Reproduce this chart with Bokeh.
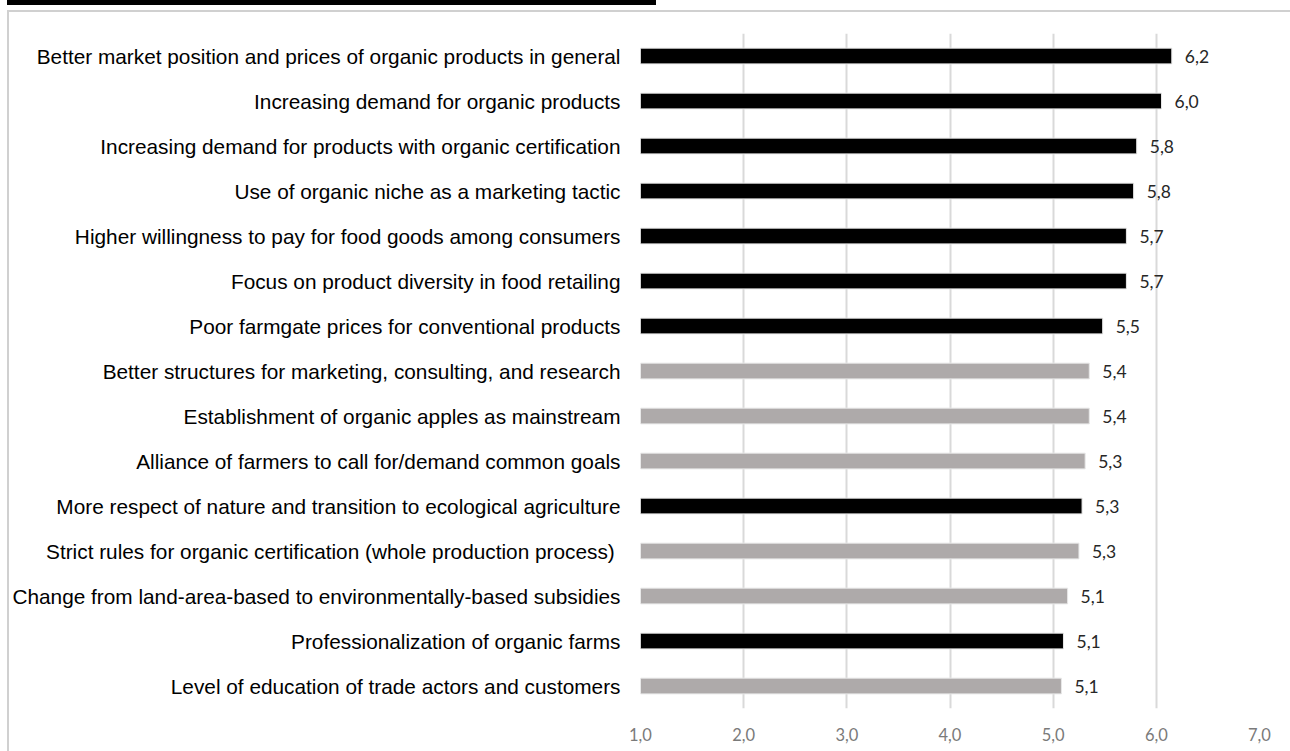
from bokeh.plotting import figure
from bokeh.models import FactorRange, Range1d, ColumnDataSource, FixedTicker
from bokeh.core.properties import value
from bokeh.embed import file_html
from bokeh.resources import INLINE

categories = [
    "Better market position and prices of organic products in general",
    "Increasing demand for organic products",
    "Increasing demand for products with organic certification",
    "Use of organic niche as a marketing tactic",
    "Higher willingness to pay for food goods among consumers",
    "Focus on product diversity in food retailing",
    "Poor farmgate prices for conventional products",
    "Better structures for marketing, consulting, and research",
    "Establishment of organic apples as mainstream",
    "Alliance of farmers to call for/demand common goals",
    "More respect of nature and transition to ecological agriculture",
    "Strict rules for organic certification (whole production process) ",
    "Change from land-area-based to environmentally-based subsidies",
    "Professionalization of organic farms",
    "Level of education of trade actors and customers",
]
values = [6.15, 6.05, 5.81, 5.78, 5.71, 5.71, 5.48, 5.35, 5.35, 5.31, 5.28, 5.25, 5.14, 5.10, 5.08]
value_labels = ["6,2", "6,0", "5,8", "5,8", "5,7", "5,7", "5,5", "5,4", "5,4", "5,3", "5,3", "5,3", "5,1", "5,1", "5,1"]
groups = ["black", "black", "black", "black", "black", "black", "black", "gray", "gray", "gray",
          "black", "gray", "gray", "black", "gray"]
x_ticks = [1, 2, 3, 4, 5, 6, 7]
x_tick_labels = ["1,0", "2,0", "3,0", "4,0", "5,0", "6,0", "7,0"]

color_map = {"black": "#000000", "gray": "#aeaaaa"}
colors = [color_map[g] for g in groups]

source = ColumnDataSource(dict(cat=categories, val=values, lab=value_labels,
                               base=[1.0] * len(values), color=colors))

p = figure(width=1290, height=751, output_backend="svg", toolbar_location=None,
           y_range=FactorRange(factors=list(reversed(categories)), range_padding=0),
           x_range=Range1d(1, 7),
           min_border_left=640, min_border_right=31, min_border_top=33, min_border_bottom=43)

p.hbar(y="cat", left="base", right="val", height=0.35, fill_color="color",
       line_color="#e8e8e8", line_width=1, source=source)

p.text(x="val", y="cat", text="lab", source=source, x_offset=13,
       text_align="left", text_baseline="middle", text_font=value("Lato"),
       text_font_size="17.5px", text_color="#262626")

p.xaxis.ticker = FixedTicker(ticks=x_ticks)
p.xaxis.major_label_overrides = {t: l for t, l in zip(x_ticks, x_tick_labels)}
p.xaxis.major_label_text_font = "Lato"
p.xaxis.major_label_text_font_size = "16.5px"
p.xaxis.major_label_text_color = "#7a7a7a"
p.xaxis.major_label_standoff = 13
p.xaxis.axis_line_color = None
p.xaxis.major_tick_line_color = None
p.xaxis.minor_tick_line_color = None

p.yaxis.major_label_text_font = "Liberation Sans"
p.yaxis.major_label_text_font_size = "20.8px"
p.yaxis.major_label_text_color = "#000000"
p.yaxis.major_label_standoff = 14
p.yaxis.axis_line_color = None
p.yaxis.major_tick_line_color = None
p.yaxis.minor_tick_line_color = None

p.xgrid.grid_line_color = "#d9d9d9"
p.xgrid.grid_line_width = 2
p.ygrid.grid_line_color = None
p.outline_line_color = None

# outer chart border and the black rule at the top, drawn behind a transparent canvas border
p.border_fill_color = None
p.styles = {
    "background-color": "#ffffff",
    "background-image": ("linear-gradient(#000000,#000000), "
                         "linear-gradient(#d0d0d0,#d0d0d0), "
                         "linear-gradient(#d0d0d0,#d0d0d0)"),
    "background-size": "649px 5px, 1290px 2px, 2px 751px",
    "background-position": "7px 0px, 7px 10px, 7px 10px",
    "background-repeat": "no-repeat",
}

open("out.html", "w").write(file_html(p, INLINE))
